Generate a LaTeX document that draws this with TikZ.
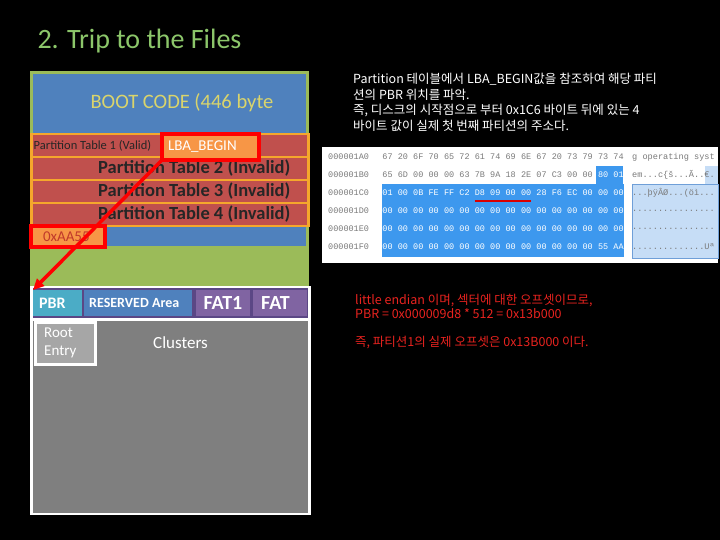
\documentclass[tikz,border=0pt]{standalone}
\usepackage{fontspec}
\setmainfont{Carlito}
\newfontfamily\korfont{Noto Sans CJK KR}
\newfontfamily\hexfont{Liberation Mono}
\usetikzlibrary{arrows.meta, positioning}
\definecolor{cgreen}{HTML}{9BBB59}
\definecolor{ctitle}{HTML}{8CC66A}
\definecolor{cblue}{HTML}{4F81BD}
\definecolor{cred}{HTML}{C0504D}
\definecolor{cborder}{HTML}{F5A72C}
\definecolor{corange}{HTML}{F79646}
\definecolor{carrow}{HTML}{FF0000}
\definecolor{csig}{HTML}{C0392B}
\definecolor{ccyan}{HTML}{4BACC6}
\definecolor{cpurple}{HTML}{8064A2}
\definecolor{cdarkp}{HTML}{5B4785}
\definecolor{cgrey}{HTML}{7F7F7F}
\definecolor{clight}{HTML}{A6A6A6}
\definecolor{cyellow}{HTML}{D9D46C}
\definecolor{cnote}{HTML}{E8231F}
\definecolor{csel}{HTML}{3D98EE}
\definecolor{cselpane}{HTML}{C6DDF6}
\definecolor{cselline}{HTML}{6F9FD8}
\definecolor{chex}{HTML}{7A7A7A}
\tikzset{
  every picture/.style={x=1pt, y=-1pt},
  cell/.style={fill=#1, anchor=north west, inner sep=0pt, outer sep=0pt},
  cell/.default=cgrey,
  ptable/.style={cell=cred, draw=cborder, line width=2.5pt},
  redbox/.style={fill=corange, draw=carrow, line width=3.5pt, anchor=north west, inner sep=0pt, outer sep=0pt},
  title/.style={font=\fontsize{28}{32}\selectfont, text=ctitle, anchor=base west},
  lbl/.style={text=white, inner sep=0pt},
  note/.style={font=\korfont\fontsize{12.5}{15.5}\selectfont, align=left, anchor=north west, inner sep=0pt},
  hexbyte/.style={font=\hexfont\fontsize{8.5}{10}\selectfont, inner sep=0pt},
  hexasc/.style={hexbyte, anchor=west, text=chex, font=\hexfont\fontsize{8.6}{10}\selectfont},
  arrow/.style={-{Triangle[length=11pt, width=10pt]}, draw=carrow, line width=3.5pt},
}
\begin{document}
\begin{tikzpicture}
  \useasboundingbox[fill=black] (0,0) rectangle (720,540);
  \node[title] (head) at (34,49) {2. Trip to the Files};
  % MBR layout
  \node[cell=cgreen, minimum width=279pt, minimum height=217pt] (mbr) at (30,71) {};
  \node[cell=cblue, minimum width=273pt, minimum height=60pt] (boot) at (33,74) {};
  \node[text=cyellow, font=\fontsize{20.5}{24}\selectfont] (bootlbl) at (182,103) {BOOT CODE (446 byte};
  \foreach \n/\y in {1/134, 2/157, 3/180, 4/203}
    \node[ptable, minimum width=277pt, minimum height=23pt] (pt\n) at (31.5,\y) {};
  \node[anchor=west, inner sep=0pt, text=black!85, font=\fontsize{12.5}{14}\selectfont] (valid) at ([xshift=2pt]pt1.west) {Partition Table 1 (Valid)};
  \foreach \n in {2,3,4}
    \node[anchor=east, inner sep=0pt, text=black!85, font=\bfseries\fontsize{18.5}{20}\selectfont] (inv\n) at ([xshift=-18pt]pt\n.east) {Partition Table \n\ (Invalid)};
  \node[redbox, text width=85pt, inner xsep=6pt, minimum height=26pt, align=left, text=white, font=\fontsize{15}{18}\selectfont] (lba) at (162,134) {LBA\_BEGIN};
  \node[cell=cblue, minimum width=201pt, minimum height=19pt] (sig) at (105,227) {};
  \node[redbox, text width=50pt, inner xsep=12pt, minimum height=21pt, align=left, text=csig, font=\fontsize{15}{18}\selectfont] (aa55) at (31,226) {0xAA55};
  % FAT file system
  \node[cell=white, minimum width=281pt, minimum height=229pt] (fatfs) at (30,286) {};
  \node[cell=cdarkp, minimum width=275pt, minimum height=30pt] (fatrow) at (33,288) {};
  \node[cell=ccyan, minimum width=49pt, minimum height=26pt] (pbr) at (33,290) {};
  \node[cell=cblue, minimum width=108pt, minimum height=26pt] (res) at (84,290) {};
  \node[cell=cpurple, minimum width=54pt, minimum height=26pt] (fat1) at (196,290) {};
  \node[cell=cpurple, minimum width=54pt, minimum height=26pt] (fat2) at (253,290) {};
  \node[lbl, anchor=west, font=\bfseries\fontsize{16}{18}\selectfont, right=6pt of pbr.west] (pbrlbl) {PBR};
  \node[lbl, anchor=west, font=\bfseries\fontsize{14}{16}\selectfont, right=5pt of res.west] (reslbl) {RESERVED Area};
  \node[lbl, font=\bfseries\fontsize{20}{22}\selectfont] (fat1lbl) at (fat1.center) {FAT1};
  \node[lbl, anchor=west, font=\bfseries\fontsize{20}{22}\selectfont, right=8pt of fat2.west] (fat2lbl) {FAT};
  \node[cell=cgrey, minimum width=275pt, minimum height=192pt] (clu) at (33,321) {};
  \node[cell=clight, draw=white, line width=3pt, minimum width=60pt, minimum height=42pt] (root) at (35.5,322.5) {};
  \node[lbl, align=left, anchor=north west, font=\fontsize{15}{18}\selectfont] (rootlbl) at (44,328) {Root\\Entry};
  \node[lbl, font=\fontsize{17}{20}\selectfont] (clulbl) at (180.5,343) {Clusters};
  \draw[arrow] (lba.south west) -- (pbr.north west);
  % hex dump of the MBR tail
  \node[cell=white, minimum width=396pt, minimum height=116pt] (dump) at (322,147) {};
  \node[cell=csel, minimum width=242pt, minimum height=73pt] (sel) at (382,184) {};
  \node[cell=csel, minimum width=27pt, minimum height=18pt] (sel0) at (596,166) {};
  \node[cell=cselpane, draw=cselline, line width=0.8pt, minimum width=86pt, minimum height=74pt] (pane) at (632,184) {};
  \node[cell=cselpane, minimum width=13pt, minimum height=18pt] (pane0) at (705,166) {};
  \foreach \addr [count=\r from 0] in {000001A0,000001B0,000001C0,000001D0,000001E0,000001F0}
    \node[hexbyte, anchor=west, text=chex] (adr\r) at (328,157+18*\r) {\addr};
  \node[hexasc] (asc0) at (632,157) {g operating syst};
  \node[hexasc] (asc1) at (632,175) {em...c\{š...Ã..€.};
  \node[hexasc] (asc2) at (632,193) {...þÿÂØ...(öì...};
  \node[hexasc] (asc3) at (632,211) {................};
  \node[hexasc] (asc4) at (632,229) {................};
  \node[hexasc] (asc5) at (632,247) {..............Uª};
  \foreach \bytes [count=\r from 0] in {{67,20,6F,70,65,72,61,74,69,6E,67,20,73,79,73,74}, {65,6D,00,00,00,63,7B,9A,18,2E,07,C3,00,00,80,01}, {01,00,0B,FE,FF,C2,D8,09,00,00,28,F6,EC,00,00,00}, {00,00,00,00,00,00,00,00,00,00,00,00,00,00,00,00}, {00,00,00,00,00,00,00,00,00,00,00,00,00,00,00,00}, {00,00,00,00,00,00,00,00,00,00,00,00,00,00,55,AA}}
    \foreach \byte [count=\k from 0] in \bytes {
      \pgfmathtruncatemacro\issel{or(\r>1, and(\r==1, \k>13))}
      \ifnum\issel=1 \def\hc{white}\else\def\hc{chex}\fi
      \node[hexbyte, text=\hc] (b\r-\k) at (387.5+15.4*\k, 157+18*\r) {\byte};
    }
  \draw[draw=carrow!85!black, line width=2.5pt] ([yshift=-8pt]b2-6.west) -- ([yshift=-8pt]b2-9.east);
  % explanation
  \node[note, text=white] (desc) at (353,73) {Partition 테이블에서 LBA\_BEGIN값을 참조하여 해당 파티\\션의 PBR 위치를 파악.\\즉, 디스크의 시작점으로 부터 0x1C6 바이트 뒤에 있는 4\\바이트 값이 실제 첫 번째 파티션의 주소다.};
  \node[note, text=cnote, font=\korfont\fontsize{12.5}{14}\selectfont] (calc) at (355,294) {little endian 이며, 섹터에 대한 오프셋이므로,\\PBR = 0x000009d8 * 512 = 0x13b000\\[14pt]즉, 파티션1의 실제 오프셋은 0x13B000 이다.};
\end{tikzpicture}
\end{document}
